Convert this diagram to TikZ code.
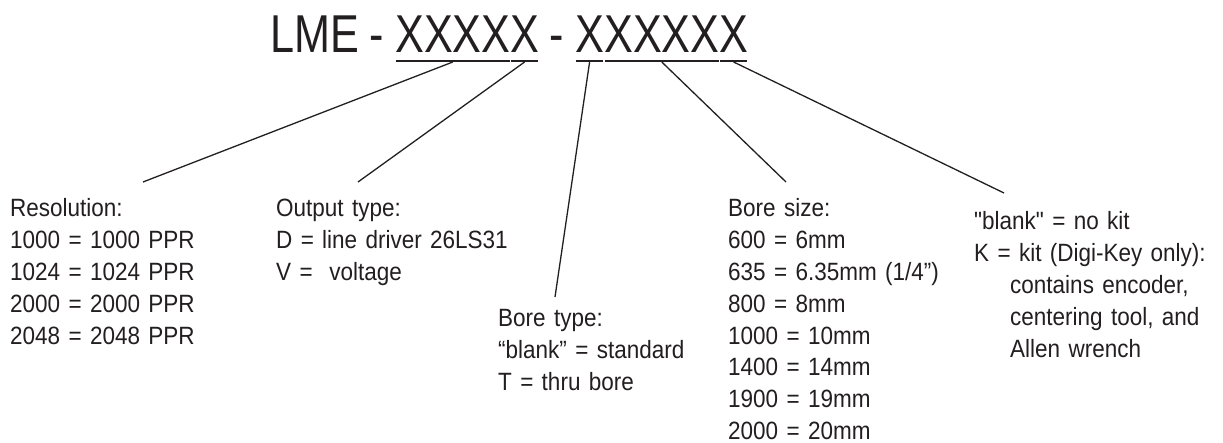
\documentclass[tikz,border=0pt]{standalone}
\usepackage{fontspec}
\setmainfont{Liberation Sans}
\newfontfamily\titlefont[FakeStretch=0.81]{Liberation Sans}
\newfontfamily\bodyfont[FakeStretch=0.9]{Liberation Sans}
\definecolor{ink}{HTML}{231F20}
\begin{document}
\begin{tikzpicture}[x=1pt,y=-1pt,
  ttl/.style={inner sep=0pt, font=\titlefont\fontsize{53.3}{60}\selectfont, text=ink},
  blk/.style={inner sep=0pt, anchor=base west, text width=#1, align=left,
              font=\bodyfont\fontsize{25}{31.8}\selectfont, text=ink},
  uline/.style={line width=1.8pt, draw=ink},
  conn/.style={line width=1.3pt, draw=ink}]
\useasboundingbox[fill=white] (0,0) rectangle (1223,443);

% title pieces
\node[ttl, anchor=base west] (lme) at (270,53) {LME};
\node[ttl, anchor=base] (h1) at (377,53) {-};
\node[ttl, anchor=base west] (g1) at (395,53) {XXXX};
\node[ttl, anchor=base west] (g2) at (510,53) {X};
\node[ttl, anchor=base] (h2) at (557,53) {-};
\node[ttl, anchor=base west] (g3) at (575,53) {X};
\node[ttl, anchor=base west] (g4) at (604,53) {XXXX};
\node[ttl, anchor=base west] (g5) at (719,53) {X};

% underlines
\foreach \g in {g1,g2,g3,g4,g5}{
  \draw[uline] ([shift={(0.8,8)}]\g.base west) -- ([shift={(-0.8,8)}]\g.base east);
  \coordinate (u\g) at ([shift={(0,9)}]\g.base);
}

% description blocks
\node[blk=200pt] (res) at (10,217) {Resolution:\\
1000 = 1000 PPR\\
1024 = 1024 PPR\\
2000 = 2000 PPR\\
2048 = 2048 PPR};
\node[blk=260pt] (out) at (276,217) {Output type:\\
D = line driver 26LS31\\
V = \ voltage};
\node[blk=200pt] (btype) at (498,327) {Bore type:\\
“blank” = standard\\
T = thru bore};
\node[blk=230pt] (bsize) at (728,217) {Bore size:\\
600 = 6mm\\
635 = 6.35mm (1/4”)\\
800 = 8mm\\
1000 = 10mm\\
1400 = 14mm\\
1900 = 19mm\\
2000 = 20mm};
\node[blk=250pt] (kit) at (974,230) {"blank" = no kit\\
K = kit (Digi-Key only):\\
\hspace*{36pt}contains encoder,\\
\hspace*{36pt}centering tool, and\\
\hspace*{36pt}Allen wrench};

% connector ends
\coordinate (e1) at (143,182);
\coordinate (e2) at (358,182);
\coordinate (e3) at (555,297);
\coordinate (e4) at (786,182);
\coordinate (e5) at (1004,193);

\draw[conn] (ug1) -- (e1);
\draw[conn] (ug2) -- (e2);
\draw[conn] (ug3) -- (e3);
\draw[conn] (ug4) -- (e4);
\draw[conn] (ug5) -- (e5);
\end{tikzpicture}
\end{document}
